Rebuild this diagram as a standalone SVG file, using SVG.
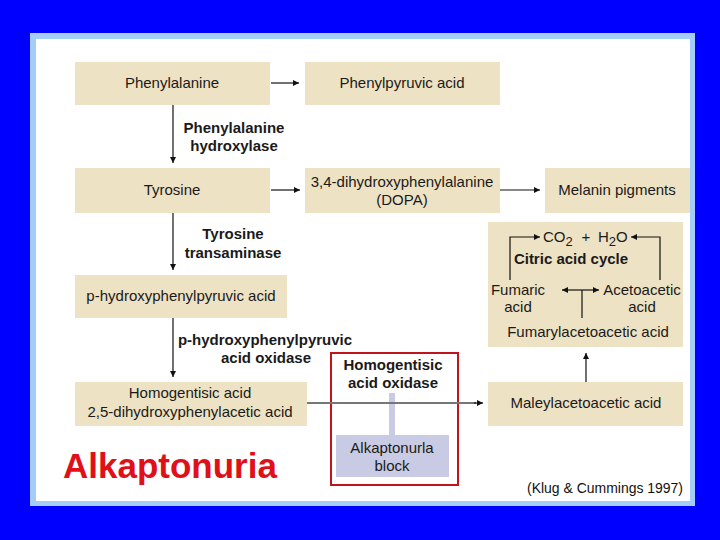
<svg xmlns="http://www.w3.org/2000/svg" width="720" height="540" viewBox="0 0 720 540">
<style>
.t{font-family:"Liberation Sans",Arial,sans-serif;font-size:15px;fill:#1a1a1a;text-anchor:middle}
.s{text-anchor:start}
.b{font-weight:bold}
.box{fill:#eee2c4}
.ln{stroke:#111;stroke-width:1.2;fill:none}
</style>
<defs>
<marker id="ah" viewBox="0 0 10 10" refX="10" refY="5" markerWidth="8" markerHeight="6" markerUnits="userSpaceOnUse" orient="auto">
<path d="M0,0 L10,5 L0,10 z" fill="#111"/>
</marker>
</defs>
<rect x="0" y="0" width="720" height="540" fill="#0000ff"/>
<rect x="30" y="33" width="665" height="473" fill="#a4ccf8"/>
<rect x="36" y="39" width="654" height="462" fill="#ffffff"/>

<g id="phenylalanine"><rect class="box" x="75" y="62" width="195" height="43"/><text class="t" x="172" y="88">Phenylalanine</text></g>
<g id="phenylpyruvic"><rect class="box" x="305" y="62" width="195" height="43"/><text class="t" x="402" y="88">Phenylpyruvic acid</text></g>
<g id="tyrosine"><rect class="box" x="75" y="168" width="195" height="45"/><text class="t" x="172" y="195">Tyrosine</text></g>
<g id="dopa"><rect class="box" x="305" y="168" width="195" height="45"/><text class="t" x="402" y="187">3,4-dihydroxyphenylalanine</text><text class="t" x="402" y="205">(DOPA)</text></g>
<g id="melanin"><rect class="box" x="545" y="168" width="145" height="45"/><text class="t" x="617" y="195">Melanin pigments</text></g>
<g id="phpp"><rect class="box" x="75" y="275" width="212" height="43"/><text class="t" x="181" y="301">p-hydroxyphenylpyruvic acid</text></g>
<g id="homogentisic"><rect class="box" x="75" y="382" width="232" height="44"/><text class="t" x="190" y="398">Homogentisic acid</text><text class="t" x="190" y="417">2,5-dihydroxyphenylacetic acid</text></g>
<g id="maleyl"><rect class="box" x="488" y="382" width="195" height="44"/><text class="t" x="586" y="408">Maleylacetoacetic acid</text></g>
<g id="citric">
<rect class="box" x="488" y="222" width="195" height="125"/>
<text class="t s" x="543" y="242">CO<tspan dy="4" font-size="13">2</tspan></text>
<text class="t" x="586" y="242">+</text>
<text class="t s" x="598" y="242">H<tspan dy="4" font-size="13">2</tspan><tspan dy="-4">O</tspan></text>
<text class="t b" x="571" y="264">Citric acid cycle</text>
<text class="t" x="518" y="295">Fumaric</text><text class="t" x="518" y="312">acid</text>
<text class="t" x="642" y="295">Acetoacetic</text><text class="t" x="642" y="312">acid</text>
<text class="t" x="588" y="337">Fumarylacetoacetic acid</text>
<path class="ln" d="M510,280 V237 H540" marker-end="url(#ah)"/>
<path class="ln" d="M660,280 V237 H631" marker-end="url(#ah)"/>
<path class="ln" d="M582,318 V290"/>
<path class="ln" d="M582,290 H599" marker-end="url(#ah)"/>
<path class="ln" d="M582,290 H562" marker-end="url(#ah)"/>
</g>

<g id="enzymes">
<text class="t b" x="234" y="133">Phenylalanine</text><text class="t b" x="234" y="151">hydroxylase</text>
<text class="t b" x="233" y="239">Tyrosine</text><text class="t b" x="233" y="258">transaminase</text>
<text class="t b" x="265" y="345">p-hydroxyphenylpyruvic</text><text class="t b" x="266" y="363">acid oxidase</text>
</g>

<g id="block">
<rect x="389" y="393" width="6" height="42" fill="#c8cbe3"/>
<rect x="336" y="435" width="113" height="42" fill="#c8cbe3"/>
<text class="t" x="392" y="453">Alkaptonurla</text><text class="t" x="392" y="471">block</text>
<text class="t b" x="393" y="370">Homogentisic</text><text class="t b" x="393" y="388">acid oxidase</text>
<rect x="331" y="353" width="127" height="132" fill="none" stroke="#c0141c" stroke-width="2"/>
</g>

<g id="connectors">
<path class="ln" d="M271,83 H299" marker-end="url(#ah)"/>
<path class="ln" d="M271,190 H300" marker-end="url(#ah)"/>
<path class="ln" d="M500,190 H540" marker-end="url(#ah)"/>
<path class="ln" d="M173,105 V163" marker-end="url(#ah)"/>
<path class="ln" d="M173,213 V270" marker-end="url(#ah)"/>
<path class="ln" d="M173,318 V377" marker-end="url(#ah)"/>
<path class="ln" d="M586,382 V353" marker-end="url(#ah)"/>
<path d="M307,403 H476" stroke="#777" stroke-width="2" fill="none"/>
<path class="ln" d="M474,403 H483" marker-end="url(#ah)"/>
</g>

<text x="63" y="478" font-family="Liberation Sans,Arial,sans-serif" font-size="35" font-weight="bold" fill="#e0101a">Alkaptonuria</text>
<text x="527" y="493" font-family="Liberation Sans,Arial,sans-serif" font-size="14" fill="#111" textLength="156" lengthAdjust="spacingAndGlyphs">(Klug &amp; Cummings 1997)</text>
</svg>
